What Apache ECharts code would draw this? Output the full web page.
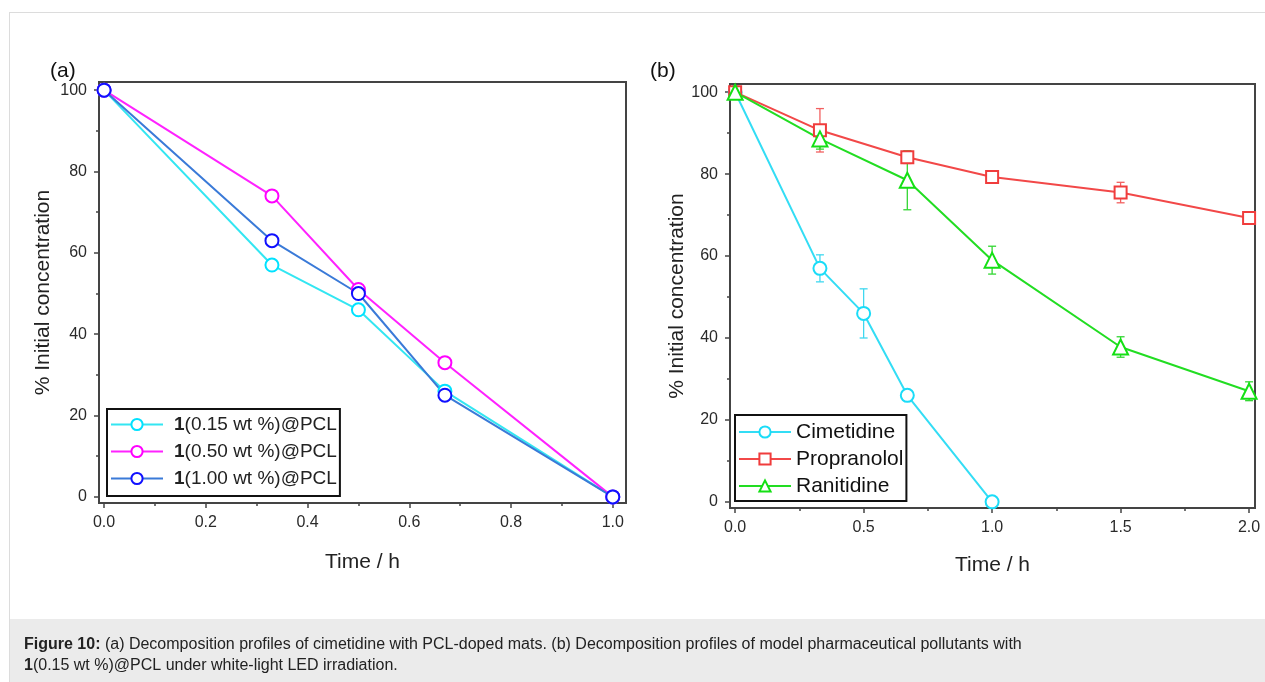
<!DOCTYPE html>
<html><head><meta charset="utf-8">
<script src="https://cdn.jsdelivr.net/npm/echarts@6/dist/echarts.min.js"></script>
<style>html,body{margin:0;padding:0;background:#fff}#c{width:1265px;height:682px}</style>
</head><body><div id="c"></div>
<script>
// ---- data ----
const timeA = [0, 0.33, 0.5, 0.67, 1.0];
const seriesA015 = [100, 57, 46, 26, 0];
const seriesA050 = [100, 74, 51, 33, 0];
const seriesA100 = [100, 63, 50, 25, 0];
const namesA = ['1(0.15 wt %)@PCL', '1(0.50 wt %)@PCL', '1(1.00 wt %)@PCL'];

const timeCim = [0, 0.33, 0.5, 0.67, 1.0];
const cimetidine = [100, 57, 46, 26, 0];
const cimetidineErr = [0, 3.3, 6, 1, 0];
const timeProp = [0, 0.33, 0.67, 1.0, 1.5, 2.0];
const propranolol = [100, 90.7, 84.1, 79.3, 75.5, 69.3];
const propranololErr = [0.5, 5.3, 1.5, 0.6, 2.5, 0.6];
const timeRan = [0, 0.33, 0.67, 1.0, 1.5, 2.0];
const ranitidine = [100, 88.6, 78.5, 59, 37.8, 27];
const ranitidineErr = [0.5, 2.5, 7.2, 3.4, 2.5, 2.3];
const namesB = ['Cimetidine', 'Propranolol', 'Ranitidine'];

const yTicks = [0, 20, 40, 60, 80, 100];
const yMinorTicks = [10, 30, 50, 70, 90];
const xTicksA = [0, 0.2, 0.4, 0.6, 0.8, 1.0];
const xMinorTicksA = [0.1, 0.3, 0.5, 0.7, 0.9];
const xTicksB = [0, 0.5, 1.0, 1.5, 2.0];
const xMinorTicksB = [0.25, 0.75, 1.25, 1.75];

// ---- helpers ----
const FONT = 'Liberation Sans, Arial, sans-serif';
const AX = '#444';
const pairs = (xs, ys) => xs.map((x, i) => [x, ys[i]]);
const errTriples = (xs, ys, es) => xs.map((x, i) => [x, ys[i] - es[i], ys[i] + es[i]]);

function mainAxis(gridIndex, min, max, ticks, pos, fmt, name, nameGap, labelMargin) {
  return {
    type: 'value', gridIndex, min, max, position: pos,
    axisLine: {show: true, onZero: false, lineStyle: {color: AX, width: 2}},
    axisTick: {show: true, inside: false, length: 5, customValues: ticks, lineStyle: {color: AX, width: 1.5}},
    axisLabel: {show: true, customValues: ticks, formatter: fmt, fontFamily: FONT, fontSize: 16, color: '#2a2a2a', margin: labelMargin},
    splitLine: {show: false},
    name, nameLocation: 'middle', nameGap,
    nameTextStyle: {fontFamily: FONT, fontSize: 21, color: '#222'}
  };
}
function minorAxis(gridIndex, min, max, ticks, pos) {
  return {
    type: 'value', gridIndex, min, max, position: pos,
    axisLine: {show: false, onZero: false},
    axisTick: {show: true, inside: false, length: 3, customValues: ticks, lineStyle: {color: AX, width: 1.5}},
    axisLabel: {show: false},
    splitLine: {show: false}
  };
}
function lineSeries(name, xi, yi, data, lineColor, markColor, symbol, size) {
  return {
    name, type: 'line', xAxisIndex: xi, yAxisIndex: yi, data,
    symbol, symbolSize: size, showAllSymbol: true,
    lineStyle: {color: lineColor, width: 2},
    itemStyle: {color: '#fff', borderColor: markColor, borderWidth: 2},
    emphasis: {disabled: true}, z: 3
  };
}
function errSeries(xi, yi, data, color) {
  return {
    type: 'custom', xAxisIndex: xi, yAxisIndex: yi, data, z: 2, silent: true,
    renderItem: (params, api) => {
      const x = api.value(0);
      const lo = api.coord([x, api.value(1)]);
      const hi = api.coord([x, api.value(2)]);
      const w = 4;
      const st = {stroke: color, lineWidth: 1.3};
      return {type: 'group', children: [
        {type: 'line', shape: {x1: lo[0], y1: lo[1], x2: hi[0], y2: hi[1]}, style: st},
        {type: 'line', shape: {x1: lo[0] - w, y1: lo[1], x2: lo[0] + w, y2: lo[1]}, style: st},
        {type: 'line', shape: {x1: hi[0] - w, y1: hi[1], x2: hi[0] + w, y2: hi[1]}, style: st}
      ]};
    }
  };
}

const fmt1 = v => Number(v).toFixed(1);
const fmt0 = v => String(Math.round(v));

const option = {
  animation: false,
  backgroundColor: '#fff',
  textStyle: {fontFamily: FONT},
  grid: [
    {left: 99, top: 82, width: 527, height: 421, show: true, borderColor: AX, borderWidth: 2, backgroundColor: 'transparent'},
    {left: 730, top: 84, width: 525, height: 424, show: true, borderColor: AX, borderWidth: 2, backgroundColor: 'transparent'}
  ],
  xAxis: [
    mainAxis(0, -0.01, 1.026, xTicksA, 'bottom', fmt1, 'Time / h', 49, 12),
    minorAxis(0, -0.01, 1.026, xMinorTicksA, 'bottom'),
    mainAxis(1, -0.02, 2.023, xTicksB, 'bottom', fmt1, 'Time / h', 47, 12),
    minorAxis(1, -0.02, 2.023, xMinorTicksB, 'bottom')
  ],
  yAxis: [
    mainAxis(0, -1.5, 102, yTicks, 'left', fmt0, '% Initial concentration', 45, 12),
    minorAxis(0, -1.5, 102, yMinorTicks, 'left'),
    mainAxis(1, -1.5, 102, yTicks, 'left', fmt0, '% Initial concentration', 41, 12),
    minorAxis(1, -1.5, 102, yMinorTicks, 'left')
  ],
  legend: [
    {
      data: namesA, selectedMode: false, orient: 'vertical', left: 107, top: 409,
      itemWidth: 52, itemHeight: 14, itemGap: 6, padding: [5, 3, 7, 3],
      borderColor: '#111', borderWidth: 2, backgroundColor: '#fff',
      formatter: n => '{b|' + n.slice(0, 1) + '}{n|' + n.slice(1) + '}',
      textStyle: {fontFamily: FONT, fontSize: 19, color: '#222', lineHeight: 21, padding: [0, 0, 0, 6],
        rich: {b: {fontFamily: FONT, fontSize: 19, fontWeight: 'bold', color: '#222', lineHeight: 21}, n: {fontFamily: FONT, fontSize: 19, color: '#222', lineHeight: 21}}}
    },
    {
      data: namesB, selectedMode: false, orient: 'vertical', left: 735, top: 415,
      itemWidth: 52, itemHeight: 14, itemGap: 5, padding: [6, 3, 4, 3],
      borderColor: '#111', borderWidth: 2, backgroundColor: '#fff',
      textStyle: {fontFamily: FONT, fontSize: 21, color: '#111', lineHeight: 22}
    }
  ],
  series: [
    lineSeries(namesA[0], 0, 0, pairs(timeA, seriesA015), '#33e6f2', '#00e2ff', 'circle', 13),
    lineSeries(namesA[1], 0, 0, pairs(timeA, seriesA050), '#ff22ff', '#ff00ff', 'circle', 13),
    lineSeries(namesA[2], 0, 0, pairs(timeA, seriesA100), '#3a7ad8', '#1010ff', 'circle', 13),
    errSeries(2, 2, errTriples(timeCim, cimetidine, cimetidineErr), '#3fd8f0'),
    errSeries(2, 2, errTriples(timeProp, propranolol, propranololErr), '#f26060'),
    errSeries(2, 2, errTriples(timeRan, ranitidine, ranitidineErr), '#33d633'),
    lineSeries(namesB[0], 2, 2, pairs(timeCim, cimetidine), '#33ddf5', '#1adcf8', 'circle', 13),
    lineSeries(namesB[1], 2, 2, pairs(timeProp, propranolol), '#f24848', '#f03c3c', 'rect', 12),
    lineSeries(namesB[2], 2, 2, pairs(timeRan, ranitidine), '#22dd22', '#14e014', 'triangle', 15)
  ],
  graphic: [
    {type: 'line', shape: {x1: 9, y1: 12.5, x2: 1265, y2: 12.5}, style: {stroke: '#dcdcdc', lineWidth: 1}, silent: true},
    {type: 'line', shape: {x1: 9.5, y1: 12, x2: 9.5, y2: 682}, style: {stroke: '#dcdcdc', lineWidth: 1}, silent: true},
    {type: 'rect', shape: {x: 10, y: 619, width: 1255, height: 63}, style: {fill: '#ebebeb'}, silent: true},
    {type: 'text', left: 50, top: 61, style: {text: '(a)', fontFamily: FONT, fontSize: 21, fill: '#111'}, silent: true},
    {type: 'text', left: 650, top: 61, style: {text: '(b)', fontFamily: FONT, fontSize: 21, fill: '#111'}, silent: true},
    {type: 'text', left: 24, top: 634, silent: true, style: {
      text: '{b|Figure 10:} (a) Decomposition profiles of cimetidine with PCL-doped mats. (b) Decomposition profiles of model pharmaceutical pollutants with\n{b|1}(0.15 wt %)@PCL under white-light LED irradiation.',
      fontFamily: FONT, fontSize: 16, fill: '#222', lineHeight: 21,
      rich: {b: {fontFamily: FONT, fontSize: 16, fontWeight: 'bold', fill: '#222', lineHeight: 21}}
    }}
  ]
};

const chart = echarts.init(document.getElementById('c'), null, {renderer: 'canvas'});
chart.setOption(option);
</script>
</body></html>
